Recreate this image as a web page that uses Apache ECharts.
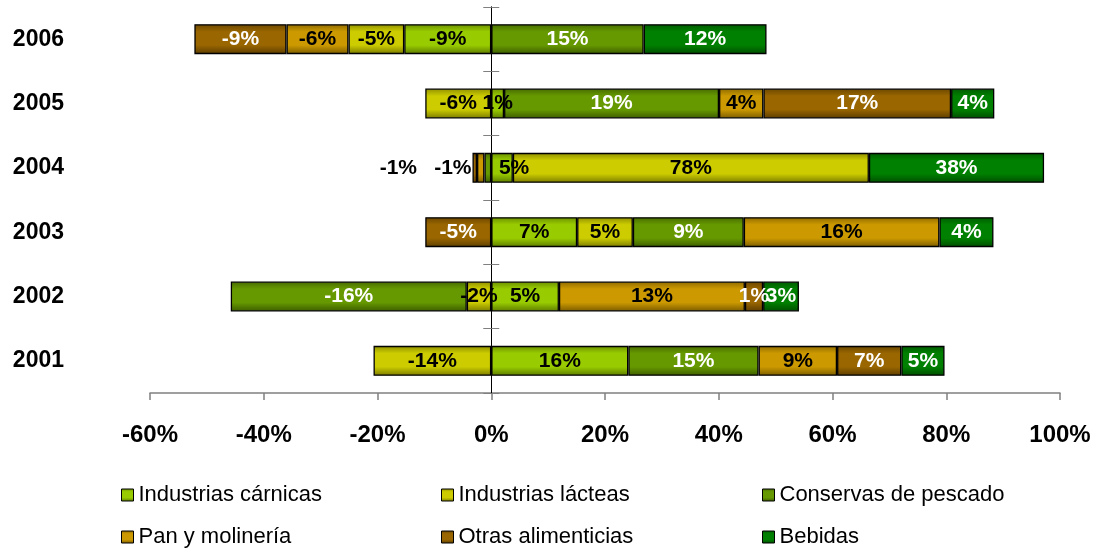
<!DOCTYPE html>
<html>
<head>
<meta charset="utf-8">
<script src="https://cdn.jsdelivr.net/npm/echarts@6/dist/echarts.min.js"></script>
<style>
html,body{margin:0;padding:0;background:#fff;}
#chart{width:1099px;height:550px;}
</style>
</head>
<body>
<div id="chart"></div>
<script>
// Categories (bottom to top)
const years = ['2001', '2002', '2003', '2004', '2005', '2006'];
const seriesNames = ['Industrias cárnicas', 'Industrias lácteas', 'Conservas de pescado', 'Pan y molinería', 'Otras alimenticias', 'Bebidas'];
const xTicks = [-60, -40, -20, 0, 20, 40, 60, 80, 100];

// Bar lengths as drawn (in % of axis)
const carnicas  = [24.1, 11.9, 15.1, 3.8, 2.25, -15.3];
const lacteas   = [-20.7, -4.3, 9.8, 62.6, -11.6, -9.8];
const conservas = [22.9, -41.5, 19.5, -1.2, 37.8, 26.8];
const pan       = [13.8, 32.7, 34.4, -1.3, 7.8, -10.9];
const otras     = [11.3, 3.2, -11.6, -0.8, 33.0, -16.2];
const bebidas   = [7.6, 6.3, 9.5, 30.8, 7.6, 21.6];

// Printed labels
const carnicasLbl  = ['16%', '5%', '7%', '5%', '1%', '-9%'];
const lacteasLbl   = ['-14%', '-2%', '5%', '78%', '-6%', '-5%'];
const conservasLbl = ['15%', '-16%', '9%', '', '19%', '15%'];
const panLbl       = ['9%', '13%', '16%', '-1%', '4%', '-6%'];
const otrasLbl     = ['7%', '1%', '-5%', '-1%', '17%', '-9%'];
const bebidasLbl   = ['5%', '3%', '4%', '38%', '4%', '12%'];

const values = [carnicas, lacteas, conservas, pan, otras, bebidas];
const labels = [carnicasLbl, lacteasLbl, conservasLbl, panLbl, otrasLbl, bebidasLbl];
const colors = ['#99CC00', '#CCCC00', '#669900', '#CC9900', '#996600', '#008000'];
const labelColors = ['#000', '#000', '#fff', '#000', '#fff', '#fff'];

const FONT = "'Liberation Sans', Arial, sans-serif";

function shade(hex, f) {
  const n = parseInt(hex.slice(1), 16);
  const r = Math.round(((n >> 16) & 255) * f), g = Math.round(((n >> 8) & 255) * f), b = Math.round((n & 255) * f);
  return 'rgb(' + r + ',' + g + ',' + b + ')';
}
function grad(hex) {
  return new echarts.graphic.LinearGradient(0, 0, 0, 1, [
    {offset: 0, color: shade(hex, 0.7)},
    {offset: 0.25, color: hex},
    {offset: 0.7, color: hex},
    {offset: 1, color: shade(hex, 0.6)}
  ]);
}

// special label placements (layout only)
const labelOverrides = {
  '0-3': {offset: [12, 0]},
  '3-3': {position: 'left', distance: 60, color: '#000'},
  '4-3': {position: 'left', distance: 1, color: '#000'}
};

const series = values.map((arr, si) => ({
  name: seriesNames[si],
  type: 'bar',
  stack: 'total',
  barWidth: 30,
  itemStyle: {color: grad(colors[si]), borderColor: '#000', borderWidth: 1.3},
  label: {
    show: true,
    position: 'inside',
    color: labelColors[si],
    fontFamily: FONT,
    fontWeight: 'bold',
    fontSize: 21,
    formatter: p => labels[si][p.dataIndex]
  },
  data: arr.map((v, di) => {
    const o = labelOverrides[si + '-' + di];
    return o ? {value: v, label: o} : v;
  })
}));

const legendCols = [121, 441, 762];
const legendRows = [484, 526];
const legends = seriesNames.map((n, i) => ({
  data: [n],
  left: legendCols[i % 3],
  top: legendRows[Math.floor(i / 3)],
  padding: 0,
  icon: 'rect',
  itemWidth: 12,
  itemHeight: 12,
  itemStyle: {borderColor: '#000', borderWidth: 1},
  textStyle: {fontFamily: FONT, fontSize: 22, color: '#000'},
  selectedMode: false
}));

const chart = echarts.init(document.getElementById('chart'));
chart.setOption({
  animation: false,
  color: colors,
  legend: legends,
  grid: {left: 150, right: 39, top: 7, bottom: 157},
  xAxis: [
    {
      type: 'value',
      min: xTicks[0],
      max: xTicks[xTicks.length - 1],
      interval: 20,
      splitLine: {show: false},
      axisLine: {show: true, onZero: false, lineStyle: {color: '#808080', width: 1.5}},
      axisTick: {show: true, length: 7, lineStyle: {color: '#808080', width: 1.5}},
      axisLabel: {
        margin: 30,
        fontFamily: FONT, fontWeight: 'bold', fontSize: 24, color: '#000',
        formatter: v => v + '%'
      }
    },
    {
      type: 'value', position: 'top',
      min: xTicks[0],
      max: xTicks[xTicks.length - 1],
      interval: 20,
      splitLine: {show: false},
      axisLine: {show: false, onZero: false},
      axisTick: {show: false},
      axisLabel: {show: false}
    }
  ],
  yAxis: [
    {
      type: 'category', data: years, position: 'left',
      axisLine: {show: false, onZero: false}, axisTick: {show: false},
      axisLabel: {margin: 86, fontFamily: FONT, fontWeight: 'bold', fontSize: 23, color: '#000'}
    },
    {
      type: 'category', data: years, position: 'left', z: 10,
      axisLine: {show: true, onZero: true, onZeroAxisIndex: 0, lineStyle: {color: '#000', width: 1}},
      axisTick: {show: true, length: 8, lineStyle: {color: '#808080'}},
      axisLabel: {show: false}
    },
    {
      type: 'category', data: years, position: 'right', z: 10,
      axisLine: {show: true, onZero: true, onZeroAxisIndex: 1, lineStyle: {color: '#000', width: 1}},
      axisTick: {show: true, length: 8, lineStyle: {color: '#808080'}},
      axisLabel: {show: false}
    }
  ],
  series: series
});
</script>
</body>
</html>
